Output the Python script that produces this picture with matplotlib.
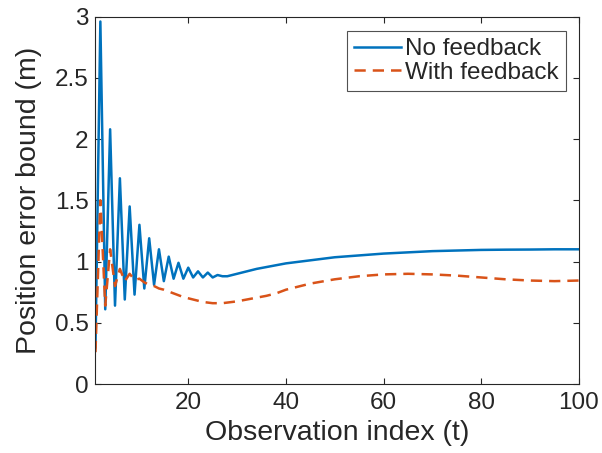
import matplotlib.pyplot as plt
from matplotlib.ticker import FuncFormatter

plt.rcParams["font.family"] = ["Liberation Sans", "DejaVu Sans"]

# observation index: dense where it oscillates, sparser on the smooth tail
t_obs = list(range(1, 31)) + [32, 34, 36, 38, 40, 45, 50, 55, 60, 65, 70, 75, 80, 85, 90, 95, 100]

no_feedback = [
    0.30, 2.96, 0.61, 2.08, 0.64, 1.68, 0.69, 1.45, 0.73, 1.30,
    0.78, 1.19, 0.81, 1.10, 0.84, 1.04, 0.86, 0.99, 0.86, 0.95,
    0.87, 0.92, 0.87, 0.91, 0.87, 0.89, 0.88, 0.88, 0.89, 0.90,
    0.92, 0.94, 0.955, 0.97, 0.985, 1.01, 1.035, 1.05, 1.065, 1.075,
    1.085, 1.09, 1.095, 1.097, 1.098, 1.10, 1.10,
]

with_feedback = [
    0.26, 1.50, 0.64, 1.10, 0.80, 0.94, 0.84, 0.90, 0.85, 0.86,
    0.83, 0.81, 0.80, 0.78, 0.77, 0.755, 0.74, 0.725, 0.71, 0.70,
    0.69, 0.68, 0.67, 0.665, 0.66, 0.66, 0.66, 0.665, 0.67, 0.675,
    0.69, 0.705, 0.72, 0.74, 0.77, 0.82, 0.855, 0.88, 0.895, 0.90,
    0.895, 0.885, 0.87, 0.855, 0.845, 0.84, 0.845,
]

fig = plt.figure(figsize=(6.02, 4.53), dpi=100)
ax = fig.add_axes([0.1586, 0.1523, 0.803, 0.811])

ax.plot(t_obs, no_feedback, color="#0072BD", lw=1.8, label="No feedback")
ax.plot(t_obs, with_feedback, color="#D95319", lw=1.8, ls=(0, (4.5, 2.8)), label="With feedback")

ax.set_xlim(1, 100)
ax.set_ylim(0, 3)
ax.set_xticks([20, 40, 60, 80, 100])
ax.set_yticks([0, 0.5, 1, 1.5, 2, 2.5, 3])
ax.yaxis.set_major_formatter(FuncFormatter(lambda v, p: f"{v:g}"))
ax.tick_params(direction="in", top=True, right=True, length=4.5, width=0.8,
               labelsize=17.5, color="#262626", labelcolor="#262626")
ax.tick_params(axis="x", pad=6)
ax.tick_params(axis="y", pad=5)
for s in ax.spines.values():
    s.set_color("#262626")
    s.set_linewidth(0.8)

ax.set_xlabel("Observation index (t)", fontsize=20.5, labelpad=4, color="#262626")
ax.set_ylabel("Position error bound (m)", fontsize=20.5, labelpad=9, color="#262626")

leg = ax.legend(loc="upper right", bbox_to_anchor=(0.973, 0.9605), fontsize=17.5,
                frameon=True, fancybox=False, edgecolor="#262626",
                handlelength=1.95, handletextpad=0.15, borderpad=0.3,
                labelspacing=0.05, borderaxespad=0.0)
leg.get_frame().set_linewidth(0.8)
for txt in leg.get_texts():
    txt.set_color("#262626")

fig.savefig("out.png", dpi=100)
